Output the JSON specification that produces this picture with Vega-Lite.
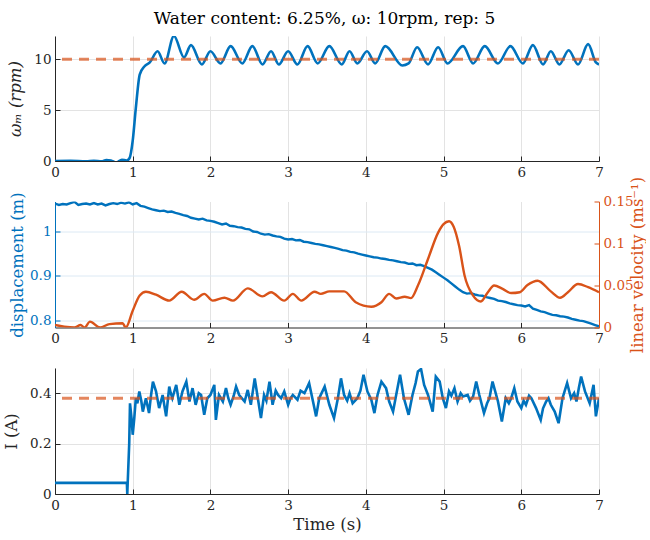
{
  "$schema": "https://vega.github.io/schema/vega-lite/v6.json",
  "background": "white",
  "padding": {"left": 3, "top": 10, "right": 0, "bottom": 5},
  "title": {"text": "Water content: 6.25%, ω: 10rpm, rep: 5", "font": "DejaVu Serif", "fontSize": 17, "fontWeight": "normal", "color": "#000000", "anchor": "middle", "offset": 8},
  "config": {
    "view": {"stroke": null},
    "axis": {"labelFont": "DejaVu Serif", "labelFontSize": 13.5, "labelColor": "#262626", "titleFont": "DejaVu Serif", "titleFontSize": 16.5, "titleFontWeight": "normal", "titleColor": "#262626", "domainColor": "#262626", "tickColor": "#262626", "gridColor": "#E3E3E3", "tickSize": -5, "labelPadding": 9, "labelFlush": false, "labelOverlap": false},
    "axisX": {"format": "d"}
  },
  "bounds": "flush",
  "spacing": 40.5,
  "datasets": {
    "omega": [
      {"t":0,"w":0},{"t":0.2,"w":0.02},{"t":0.4,"w":-0.03},{"t":0.5,"w":0.03},{"t":0.6,"w":-0.02},{"t":0.66,"w":0.1},{"t":0.72,"w":0.05},{"t":0.79,"w":-0.15},{"t":0.86,"w":0.12},{"t":0.92,"w":0.05},{"t":0.96,"w":0.3},{"t":1.0,"w":2.0},{"t":1.04,"w":5.2},{"t":1.09,"w":8.5},{"t":1.15,"w":9.3},{"t":1.22,"w":9.7},{"t":1.32,"w":10.8},{"t":1.41,"w":9.6},{"t":1.53,"w":12.3},{"t":1.66,"w":10.2},{"t":1.75,"w":11.4},{"t":1.89,"w":9.5},{"t":2.0,"w":10.8},{"t":2.13,"w":9.6},{"t":2.26,"w":11.3},{"t":2.41,"w":9.6},{"t":2.54,"w":11.3},{"t":2.67,"w":9.5},{"t":2.78,"w":10.8},{"t":2.88,"w":9.5},{"t":3.0,"w":10.8},{"t":3.12,"w":9.5},{"t":3.25,"w":11.3},{"t":3.38,"w":9.6},{"t":3.53,"w":11.3},{"t":3.69,"w":9.5},{"t":3.79,"w":10.8},{"t":3.89,"w":9.6},{"t":4.015,"w":10.8},{"t":4.12,"w":9.6},{"t":4.25,"w":11.3},{"t":4.47,"w":9.4},{"t":4.55,"w":9.6},{"t":4.66,"w":11.2},{"t":4.8,"w":9.5},{"t":4.93,"w":11.2},{"t":5.05,"w":9.6},{"t":5.25,"w":11.3},{"t":5.38,"w":9.6},{"t":5.53,"w":11.3},{"t":5.7,"w":9.6},{"t":5.86,"w":11.3},{"t":6.02,"w":9.6},{"t":6.15,"w":11.4},{"t":6.28,"w":9.5},{"t":6.38,"w":10.8},{"t":6.49,"w":9.5},{"t":6.61,"w":10.9},{"t":6.73,"w":9.5},{"t":6.86,"w":11.5},{"t":6.96,"w":9.7},{"t":7.0,"w":9.5}
    ],
    "disp": [
      {"t":0,"d":1.063},{"t":0.05,"d":1.06},{"t":0.1,"d":1.062},{"t":0.15,"d":1.061},{"t":0.2,"d":1.064},{"t":0.25,"d":1.067},{"t":0.3,"d":1.06},{"t":0.35,"d":1.062},{"t":0.4,"d":1.063},{"t":0.45,"d":1.061},{"t":0.5,"d":1.064},{"t":0.55,"d":1.061},{"t":0.6,"d":1.063},{"t":0.65,"d":1.059},{"t":0.7,"d":1.062},{"t":0.75,"d":1.064},{"t":0.8,"d":1.062},{"t":0.85,"d":1.065},{"t":0.9,"d":1.063},{"t":0.95,"d":1.066},{"t":1.0,"d":1.061},{"t":1.05,"d":1.064},{"t":1.1,"d":1.058},{"t":1.15,"d":1.056},{"t":1.2,"d":1.053},{"t":1.25,"d":1.05},{"t":1.3,"d":1.048},{"t":1.35,"d":1.046},{"t":1.4,"d":1.047},{"t":1.45,"d":1.044},{"t":1.5,"d":1.045},{"t":1.55,"d":1.042},{"t":1.6,"d":1.04},{"t":1.65,"d":1.037},{"t":1.7,"d":1.035},{"t":1.75,"d":1.031},{"t":1.8,"d":1.029},{"t":1.85,"d":1.027},{"t":1.9,"d":1.029},{"t":1.95,"d":1.025},{"t":2.0,"d":1.024},{"t":2.05,"d":1.022},{"t":2.1,"d":1.019},{"t":2.15,"d":1.016},{"t":2.2,"d":1.018},{"t":2.25,"d":1.013},{"t":2.3,"d":1.012},{"t":2.35,"d":1.01},{"t":2.4,"d":1.009},{"t":2.45,"d":1.006},{"t":2.5,"d":1.005},{"t":2.55,"d":1.0},{"t":2.6,"d":0.999},{"t":2.65,"d":0.995},{"t":2.7,"d":0.993},{"t":2.75,"d":0.994},{"t":2.8,"d":0.991},{"t":2.85,"d":0.989},{"t":2.9,"d":0.988},{"t":2.95,"d":0.984},{"t":3.0,"d":0.982},{"t":3.05,"d":0.983},{"t":3.1,"d":0.98},{"t":3.15,"d":0.981},{"t":3.2,"d":0.977},{"t":3.25,"d":0.976},{"t":3.3,"d":0.974},{"t":3.35,"d":0.972},{"t":3.4,"d":0.971},{"t":3.45,"d":0.969},{"t":3.5,"d":0.967},{"t":3.55,"d":0.965},{"t":3.6,"d":0.963},{"t":3.65,"d":0.961},{"t":3.7,"d":0.958},{"t":3.75,"d":0.957},{"t":3.8,"d":0.954},{"t":3.85,"d":0.953},{"t":3.9,"d":0.95},{"t":3.95,"d":0.948},{"t":4.0,"d":0.946},{"t":4.05,"d":0.944},{"t":4.1,"d":0.942},{"t":4.15,"d":0.941},{"t":4.2,"d":0.939},{"t":4.25,"d":0.938},{"t":4.3,"d":0.936},{"t":4.35,"d":0.935},{"t":4.4,"d":0.933},{"t":4.45,"d":0.931},{"t":4.5,"d":0.93},{"t":4.55,"d":0.927},{"t":4.6,"d":0.928},{"t":4.65,"d":0.924},{"t":4.7,"d":0.925},{"t":4.75,"d":0.922},{"t":4.8,"d":0.918},{"t":4.85,"d":0.914},{"t":4.9,"d":0.908},{"t":4.95,"d":0.902},{"t":5.0,"d":0.896},{"t":5.05,"d":0.89},{"t":5.1,"d":0.883},{"t":5.15,"d":0.876},{"t":5.2,"d":0.869},{"t":5.25,"d":0.863},{"t":5.3,"d":0.86},{"t":5.35,"d":0.861},{"t":5.4,"d":0.858},{"t":5.45,"d":0.856},{"t":5.5,"d":0.855},{"t":5.55,"d":0.852},{"t":5.6,"d":0.85},{"t":5.65,"d":0.848},{"t":5.7,"d":0.844},{"t":5.75,"d":0.843},{"t":5.8,"d":0.841},{"t":5.85,"d":0.838},{"t":5.9,"d":0.836},{"t":5.95,"d":0.834},{"t":6.0,"d":0.833},{"t":6.05,"d":0.831},{"t":6.1,"d":0.834},{"t":6.15,"d":0.826},{"t":6.2,"d":0.823},{"t":6.25,"d":0.82},{"t":6.3,"d":0.818},{"t":6.35,"d":0.815},{"t":6.4,"d":0.812},{"t":6.45,"d":0.811},{"t":6.5,"d":0.809},{"t":6.55,"d":0.808},{"t":6.6,"d":0.806},{"t":6.65,"d":0.803},{"t":6.7,"d":0.801},{"t":6.75,"d":0.799},{"t":6.8,"d":0.798},{"t":6.85,"d":0.795},{"t":6.9,"d":0.792},{"t":6.95,"d":0.789},{"t":7.0,"d":0.786}
    ],
    "vel": [
      {"t":0,"v":0.003},{"t":0.12,"v":0.001},{"t":0.25,"v":0.0},{"t":0.33,"v":0.003},{"t":0.38,"v":0.0},{"t":0.45,"v":0.007},{"t":0.58,"v":0.0},{"t":0.7,"v":0.004},{"t":0.87,"v":0.005},{"t":0.91,"v":0.0},{"t":1.0,"v":0.02},{"t":1.09,"v":0.038},{"t":1.17,"v":0.0426},{"t":1.3,"v":0.039},{"t":1.47,"v":0.032},{"t":1.63,"v":0.0426},{"t":1.79,"v":0.033},{"t":1.92,"v":0.04},{"t":2.03,"v":0.032},{"t":2.18,"v":0.0354},{"t":2.29,"v":0.032},{"t":2.48,"v":0.0466},{"t":2.67,"v":0.037},{"t":2.78,"v":0.042},{"t":2.95,"v":0.032},{"t":3.06,"v":0.04},{"t":3.17,"v":0.032},{"t":3.34,"v":0.0426},{"t":3.42,"v":0.04},{"t":3.53,"v":0.043},{"t":3.72,"v":0.043},{"t":3.87,"v":0.03},{"t":4.07,"v":0.0247},{"t":4.2,"v":0.03},{"t":4.3,"v":0.04},{"t":4.39,"v":0.0346},{"t":4.5,"v":0.0366},{"t":4.58,"v":0.035},{"t":4.67,"v":0.05},{"t":4.8,"v":0.0816},{"t":4.93,"v":0.113},{"t":5.0,"v":0.123},{"t":5.07,"v":0.1265},{"t":5.13,"v":0.12},{"t":5.2,"v":0.097},{"t":5.27,"v":0.062},{"t":5.38,"v":0.038},{"t":5.48,"v":0.031},{"t":5.57,"v":0.042},{"t":5.65,"v":0.05},{"t":5.76,"v":0.046},{"t":5.87,"v":0.041},{"t":5.98,"v":0.042},{"t":6.08,"v":0.0505},{"t":6.21,"v":0.0557},{"t":6.38,"v":0.043},{"t":6.5,"v":0.0354},{"t":6.6,"v":0.042},{"t":6.73,"v":0.0517},{"t":6.86,"v":0.048},{"t":7.0,"v":0.042}
    ],
    "cur": [
      {"t":0,"i":0.044},{"t":0.925,"i":0.044},{"t":0.93,"i":0.0},{"t":0.955,"i":0.2},{"t":0.965,"i":0.36},{"t":0.985,"i":0.3},{"t":1.0,"i":0.235},{"t":1.02,"i":0.3},{"t":1.04,"i":0.38},{"t":1.06,"i":0.36},{"t":1.085,"i":0.407},{"t":1.11,"i":0.37},{"t":1.13,"i":0.327},{"t":1.17,"i":0.38},{"t":1.21,"i":0.321},{"t":1.235,"i":0.39},{"t":1.26,"i":0.446},{"t":1.3,"i":0.407},{"t":1.34,"i":0.341},{"t":1.385,"i":0.393},{"t":1.43,"i":0.308},{"t":1.47,"i":0.426},{"t":1.49,"i":0.4},{"t":1.51,"i":0.38},{"t":1.56,"i":0.433},{"t":1.6,"i":0.354},{"t":1.64,"i":0.407},{"t":1.69,"i":0.446},{"t":1.73,"i":0.367},{"t":1.77,"i":0.42},{"t":1.81,"i":0.354},{"t":1.85,"i":0.4},{"t":1.88,"i":0.393},{"t":1.92,"i":0.314},{"t":1.96,"i":0.38},{"t":2.0,"i":0.393},{"t":2.05,"i":0.433},{"t":2.07,"i":0.294},{"t":2.11,"i":0.393},{"t":2.16,"i":0.367},{"t":2.2,"i":0.42},{"t":2.23,"i":0.38},{"t":2.26,"i":0.354},{"t":2.3,"i":0.39},{"t":2.33,"i":0.426},{"t":2.37,"i":0.393},{"t":2.44,"i":0.367},{"t":2.48,"i":0.413},{"t":2.52,"i":0.354},{"t":2.57,"i":0.459},{"t":2.61,"i":0.38},{"t":2.65,"i":0.301},{"t":2.69,"i":0.393},{"t":2.72,"i":0.37},{"t":2.76,"i":0.446},{"t":2.8,"i":0.354},{"t":2.84,"i":0.41},{"t":2.87,"i":0.393},{"t":2.91,"i":0.38},{"t":2.95,"i":0.407},{"t":3.0,"i":0.354},{"t":3.03,"i":0.38},{"t":3.06,"i":0.393},{"t":3.12,"i":0.374},{"t":3.16,"i":0.41},{"t":3.21,"i":0.4},{"t":3.27,"i":0.44},{"t":3.32,"i":0.367},{"t":3.36,"i":0.308},{"t":3.4,"i":0.38},{"t":3.47,"i":0.426},{"t":3.53,"i":0.354},{"t":3.59,"i":0.301},{"t":3.64,"i":0.38},{"t":3.68,"i":0.459},{"t":3.72,"i":0.393},{"t":3.76,"i":0.37},{"t":3.79,"i":0.4},{"t":3.83,"i":0.36},{"t":3.89,"i":0.38},{"t":3.93,"i":0.41},{"t":3.97,"i":0.473},{"t":4.02,"i":0.407},{"t":4.07,"i":0.374},{"t":4.11,"i":0.321},{"t":4.15,"i":0.393},{"t":4.2,"i":0.446},{"t":4.26,"i":0.42},{"t":4.3,"i":0.367},{"t":4.35,"i":0.327},{"t":4.39,"i":0.393},{"t":4.44,"i":0.473},{"t":4.49,"i":0.38},{"t":4.55,"i":0.314},{"t":4.6,"i":0.393},{"t":4.64,"i":0.44},{"t":4.67,"i":0.486},{"t":4.71,"i":0.496},{"t":4.75,"i":0.433},{"t":4.8,"i":0.393},{"t":4.86,"i":0.327},{"t":4.9,"i":0.466},{"t":4.95,"i":0.446},{"t":4.99,"i":0.38},{"t":5.03,"i":0.341},{"t":5.07,"i":0.407},{"t":5.1,"i":0.39},{"t":5.14,"i":0.42},{"t":5.18,"i":0.367},{"t":5.22,"i":0.4},{"t":5.25,"i":0.387},{"t":5.31,"i":0.393},{"t":5.34,"i":0.37},{"t":5.38,"i":0.387},{"t":5.42,"i":0.446},{"t":5.46,"i":0.393},{"t":5.52,"i":0.321},{"t":5.56,"i":0.36},{"t":5.59,"i":0.38},{"t":5.63,"i":0.446},{"t":5.7,"i":0.367},{"t":5.75,"i":0.288},{"t":5.8,"i":0.38},{"t":5.84,"i":0.36},{"t":5.87,"i":0.38},{"t":5.91,"i":0.42},{"t":5.95,"i":0.367},{"t":6.0,"i":0.341},{"t":6.03,"i":0.37},{"t":6.06,"i":0.354},{"t":6.1,"i":0.39},{"t":6.13,"i":0.38},{"t":6.19,"i":0.341},{"t":6.25,"i":0.294},{"t":6.28,"i":0.34},{"t":6.32,"i":0.367},{"t":6.35,"i":0.38},{"t":6.38,"i":0.354},{"t":6.43,"i":0.327},{"t":6.48,"i":0.281},{"t":6.53,"i":0.38},{"t":6.56,"i":0.41},{"t":6.59,"i":0.44},{"t":6.64,"i":0.38},{"t":6.68,"i":0.4},{"t":6.71,"i":0.367},{"t":6.74,"i":0.42},{"t":6.77,"i":0.466},{"t":6.82,"i":0.407},{"t":6.88,"i":0.36},{"t":6.93,"i":0.433},{"t":6.96,"i":0.308},{"t":7.0,"i":0.38}
    ],
    "wref": [{"w": 10}],
    "iref": [{"i": 0.38}]
  },
  "vconcat": [
    {
      "width": 544, "height": 125,
      "layer": [
        {
          "data": {"name": "omega"},
          "mark": {"type": "line", "color": "#0072BD", "strokeWidth": 2.6, "interpolate": "monotone", "clip": true},
          "encoding": {
            "x": {"field": "t", "type": "quantitative", "scale": {"domain": [0, 7], "nice": false}, "axis": {"title": null, "values": [0,1,2,3,4,5,6,7], "grid": true}},
            "y": {"field": "w", "type": "quantitative", "scale": {"domain": [0, 12.3], "nice": false, "zero": false}, "axis": {"title": "ωₘ (rpm)", "titleFontStyle": "italic", "values": [0, 5, 10], "labelExpr": "datum.value", "grid": true, "titlePadding": 10}}
          }
        },
        {
          "data": {"name": "wref"},
          "mark": {"type": "rule", "color": "#D95319", "opacity": 0.7, "strokeWidth": 3, "strokeDash": [10, 7]},
          "encoding": {"y": {"field": "w", "type": "quantitative"}}
        }
      ]
    },
    {
      "width": 544, "height": 126,
      "resolve": {"scale": {"y": "independent"}},
      "layer": [
        {
          "data": {"name": "disp"},
          "mark": {"type": "line", "color": "#0072BD", "strokeWidth": 2.4, "clip": true},
          "encoding": {
            "x": {"field": "t", "type": "quantitative", "scale": {"domain": [0, 7], "nice": false}, "axis": {"title": null, "values": [0,1,2,3,4,5,6,7], "grid": true}},
            "y": {"field": "d", "type": "quantitative", "scale": {"domain": [0.7835, 1.0677], "nice": false, "zero": false}, "axis": {"orient": "left", "title": "displacement (m)", "values": [0.8, 0.9, 1], "labelExpr": "datum.value", "grid": true, "gridColor": "#DCE9F4", "labelColor": "#0072BD", "titleColor": "#0072BD", "domainColor": "#0072BD", "tickColor": "#0072BD", "titlePadding": 4}}
          }
        },
        {
          "data": {"name": "vel"},
          "mark": {"type": "line", "color": "#D95319", "strokeWidth": 2.4, "interpolate": "monotone", "clip": true},
          "encoding": {
            "x": {"field": "t", "type": "quantitative"},
            "y": {"field": "v", "type": "quantitative", "scale": {"domain": [0, 0.15], "nice": false}, "axis": {"orient": "right", "title": "linear velocity (ms⁻¹)", "titleAngle": 270, "values": [0, 0.05, 0.1, 0.15], "labelExpr": "datum.value", "grid": false, "labelColor": "#D95319", "titleColor": "#D95319", "domainColor": "#D95319", "tickColor": "#D95319", "titlePadding": 12}}
          }
        }
      ]
    },
    {
      "width": 544, "height": 126,
      "layer": [
        {
          "data": {"name": "cur"},
          "mark": {"type": "line", "color": "#0072BD", "strokeWidth": 2.6, "clip": true},
          "encoding": {
            "x": {"field": "t", "type": "quantitative", "scale": {"domain": [0, 7], "nice": false}, "axis": {"title": "Time (s)", "values": [0,1,2,3,4,5,6,7], "grid": true, "titlePadding": 5}},
            "y": {"field": "i", "type": "quantitative", "scale": {"domain": [0, 0.5], "nice": false}, "axis": {"title": "I (A)", "values": [0, 0.2, 0.4], "labelExpr": "datum.value", "grid": true, "titlePadding": 10}}
          }
        },
        {
          "data": {"name": "iref"},
          "mark": {"type": "rule", "color": "#D95319", "opacity": 0.7, "strokeWidth": 3, "strokeDash": [10, 7]},
          "encoding": {"y": {"field": "i", "type": "quantitative"}}
        }
      ]
    }
  ]
}
